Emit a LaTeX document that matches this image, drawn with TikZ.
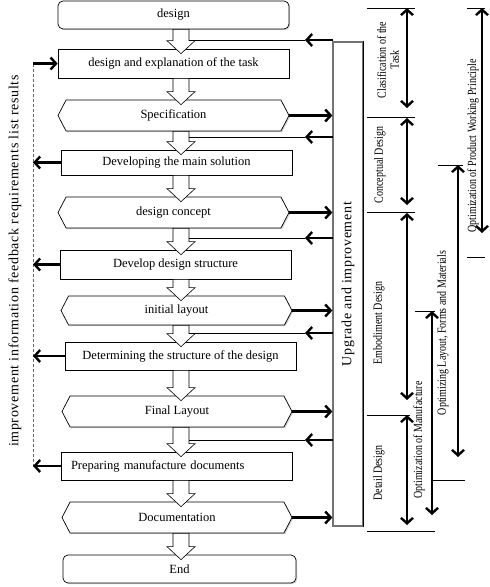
\documentclass[tikz,border=0pt]{standalone}
\usepackage{fontspec}
\setmainfont{Liberation Serif}
\newfontfamily\condfont[FakeStretch=0.8]{Liberation Serif}
\newfontfamily\spacedfont[LetterSpace=5]{Liberation Serif}
\newfontfamily\upfont[LetterSpace=5]{Liberation Serif}
\usetikzlibrary{arrows.meta,shapes.symbols,shadows,calc}
\newcommand\blockarrow[2]{%
  \draw[barr] let \p1=(#1.south), \p2=(#2.north) in
  (173pt,\y1) -- (173pt,\y2+8pt) -- (167pt,\y2+8pt) -- (181pt,\y2-5pt)
  -- (195pt,\y2+8pt) -- (189pt,\y2+8pt) -- (189pt,\y1) -- cycle;}
\begin{document}
\begin{tikzpicture}[x=1pt,y=-1pt,
  box/.style={draw, line width=0.7pt, fill=white, minimum width=231pt,
    minimum height=29pt, inner sep=0pt, font=\fontsize{12.5}{14}\selectfont,
    drop shadow={shadow xshift=1.2pt,shadow yshift=-1.2pt,fill=black!35}},
  rbox/.style={box, rounded corners=5pt},
  hexbox/.style={box, shape=signal, signal to=east and west,
    signal from=nowhere, signal pointer angle=125, minimum height=31pt},
  barr/.style={draw, line width=0.6pt, fill=white},
  fat/.style={line width=2.4pt, -{Straight Barb[length=5.5pt,width=12pt]}},
  dbl/.style={line width=2.4pt,
    {Straight Barb[length=5.5pt,width=12pt]}-{Straight Barb[length=5.5pt,width=12pt]}},
  sep/.style={line width=0.7pt},
  thinline/.style={line width=0.6pt},
  vlab/.style={rotate=90, font=\condfont\fontsize{12.5}{13}\selectfont,
    inner sep=0pt, align=center},
]
\useasboundingbox (0,0) rectangle (490,587);

% main column
\node[rbox, minimum height=28pt] (design) at (173.5,15) {design};
\node[box] (task) at (173.5,63.5) {design and explanation of the task};
\node[hexbox] (spec) at (173.5,115.5) {Specification};
\node[box, minimum height=25pt] (mainsol) at (176.5,162.5) {Developing the main solution};
\node[hexbox] (concept) at (173.5,212.5) {design concept};
\node[box] (struct) at (175.5,264.5) {Develop design structure};
\node[hexbox, minimum height=29pt] (initlay) at (176.5,310.5) {initial layout};
\node[box, minimum height=28pt] (determ) at (180.5,356) {Determining the structure of the design};
\node[hexbox, minimum width=230pt] (final) at (177,411.5) {Final Layout};
\node[box, minimum height=28pt, text width=211pt, align=left, inner xsep=10pt] (prep) at (176.5,466) {Preparing manufacture documents};
\node[hexbox, minimum width=230pt] (docu) at (177,517.5) {Documentation};
\node[rbox, minimum width=233pt, minimum height=28pt] (end) at (179.5,569) {End};

\blockarrow{design}{task}
\blockarrow{task}{spec}
\blockarrow{spec}{mainsol}
\blockarrow{mainsol}{concept}
\blockarrow{concept}{struct}
\blockarrow{struct}{initlay}
\blockarrow{initlay}{determ}
\blockarrow{determ}{final}
\blockarrow{final}{prep}
\blockarrow{prep}{docu}
\blockarrow{docu}{end}

% upgrade box
\node[draw=black!55, line width=1.3pt, minimum width=30pt, minimum height=484pt,
  inner sep=0pt] (up) at (348,284)
  {\rotatebox{90}{\upfont\fontsize{14}{14}\selectfont Upgrade and improvement}};
\draw[thinline] (up.north east) -- (up.south east);

\foreach \n in {spec,concept,initlay,final,docu}
  \draw[fat] (\n.east) -- (\n.east -| up.west);

% return arrows
\foreach \i/\yy in {1/40,2/137,3/238,4/333,5/440}{
  \coordinate (rb\i) at (333,\yy);
  \coordinate (rm\i) at (305,\yy);
  \coordinate (rs\i) at (189,\yy);
  \draw[fat] (rb\i) -- (rm\i);
  \draw[thinline] (rm\i) -- (rs\i);
}

% left feedback
\coordinate (ltop) at (33,63.5);
\coordinate (lbot) at (33,466);
\draw[line width=0.7pt, black!60, dash pattern=on 3pt off 2pt] (ltop) -- (lbot);
\draw[fat] (ltop) -- (task.west);
\foreach \n in {mainsol,struct,determ,prep}
  \draw[fat] (\n.west) -- (\n.west -| ltop);
\node[rotate=90, inner sep=0pt, font=\spacedfont\fontsize{14}{14}\selectfont] (fbtext) at (15,261)
  {improvement information feedback requirements list results};

% right phase column
\draw[sep] (367,8) -- (415,8);
\draw[sep] (367,117) -- (415,117);
\draw[sep] (367,212) -- (415,212);
\draw[sep] (367,415) -- (410,415);
\draw[sep] (367,531) -- (435,531);
\draw[sep] (467,8) -- (485,8);
\draw[sep] (467,257) -- (485,257);
\draw[sep] (438,165) -- (463,165);
\draw[sep] (433,480) -- (465,480);
\draw[sep] (415,311) -- (435,311);

\coordinate (a1t) at (407,8);   \coordinate (a1b) at (407,108);
\coordinate (a2t) at (407,118); \coordinate (a2b) at (407,205);
\coordinate (a3t) at (407,213); \coordinate (a3b) at (407,400);
\coordinate (a4t) at (407,415); \coordinate (a4b) at (407,525);
\coordinate (a5t) at (432,311); \coordinate (a5b) at (432,515);
\coordinate (a6t) at (458,165); \coordinate (a6b) at (458,457);
\coordinate (a7t) at (482,8);   \coordinate (a7b) at (482,233);
\foreach \i in {1,...,7} \draw[dbl] (a\i t) -- (a\i b);

\node[vlab] (l1) at (388,60) {Clasification of the\\Task};
\node[vlab] (l2) at (380,165) {Conceptual Design};
\node[vlab] (l3) at (379,323) {Embodiment Design};
\node[vlab] (l4) at (379,473) {Detail Design};
\node[vlab] (l5) at (419,440) {Optimization of Manufacture};
\node[vlab] (l6) at (443,333) {Optimizing Layout, Forms and Materials};
\node[vlab] (l7) at (473,146) {Optimization of Product Working Principle};
\end{tikzpicture}
\end{document}
